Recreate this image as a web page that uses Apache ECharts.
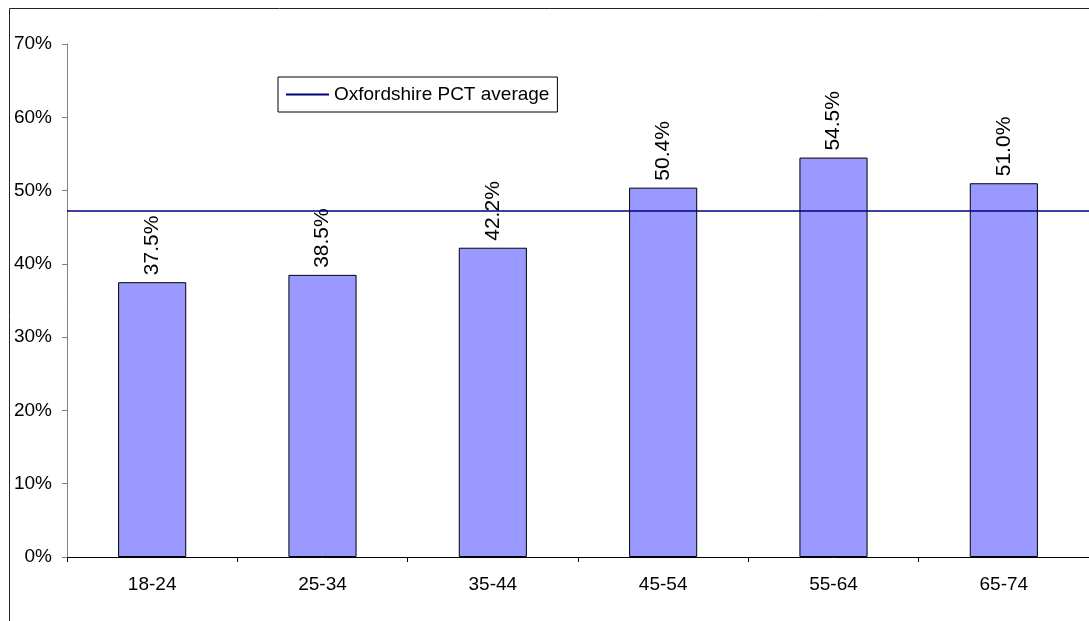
<!DOCTYPE html>
<html>
<head>
<meta charset="utf-8">
<script src="https://cdn.jsdelivr.net/npm/echarts@6/dist/echarts.min.js"></script>
<style>
  html, body { margin: 0; padding: 0; background: #fff; }
  #chart { width: 1089px; height: 621px; }
</style>
</head>
<body>
<div id="chart"></div>
<script>
var ageGroups = ['18-24', '25-34', '35-44', '45-54', '55-64', '65-74'];
var uptake = [37.5, 38.5, 42.2, 50.4, 54.5, 51.0];
var pctAverage = 47.3;
var avgName = 'Oxfordshire PCT average';

var myChart = echarts.init(document.getElementById('chart'));
var option = {
  animation: false,
  textStyle: { fontFamily: 'Liberation Sans, Arial, sans-serif' },
  grid: { left: 67, top: 44, width: 1029, height: 513 },
  graphic: [{
    type: 'rect',
    shape: { x: 9.5, y: 8.5, width: 1200, height: 700 },
    style: { fill: 'none', stroke: '#222', lineWidth: 1 },
    silent: true
  }],
  legend: {
    left: 278, top: 77,
    padding: [8, 8, 8, 8],
    borderColor: '#000', borderWidth: 1,
    itemWidth: 43, itemHeight: 2,
    icon: 'rect',
    data: [avgName],
    textStyle: { fontSize: 19, color: '#000' }
  },
  xAxis: {
    type: 'category',
    data: ageGroups,
    axisLine: { lineStyle: { color: '#000', width: 1 } },
    axisTick: { show: true, length: 5, lineStyle: { color: '#000' } },
    axisLabel: { fontSize: 19, color: '#000', margin: 18 }
  },
  yAxis: {
    type: 'value',
    min: 0, max: 70, interval: 10,
    axisLine: { show: true, lineStyle: { color: '#808080' } },
    axisTick: { show: true, length: 5, lineStyle: { color: '#808080' } },
    splitLine: { show: false },
    axisLabel: { fontSize: 19, color: '#000', margin: 15, formatter: '{value}%' }
  },
  series: [{
    type: 'bar',
    name: 'Uptake',
    data: uptake,
    barWidth: '40%',
    itemStyle: { color: '#9999FF', borderColor: '#000', borderWidth: 1 },
    label: {
      show: true,
      position: 'top',
      rotate: 90,
      align: 'left',
      verticalAlign: 'middle',
      distance: 7,
      fontSize: 21,
      color: '#000',
      formatter: function (p) { return p.value.toFixed(1) + '%'; }
    }
  }, {
    type: 'line',
    name: avgName,
    data: [],
    itemStyle: { color: '#000080' },
    lineStyle: { color: '#000080' },
    markLine: {
      silent: true,
      symbol: ['none', 'none'],
      label: { show: false },
      lineStyle: { color: '#000080', width: 1.5, type: 'solid' },
      data: [{ yAxis: pctAverage }]
    }
  }]
};
myChart.setOption(option);
</script>
</body>
</html>
